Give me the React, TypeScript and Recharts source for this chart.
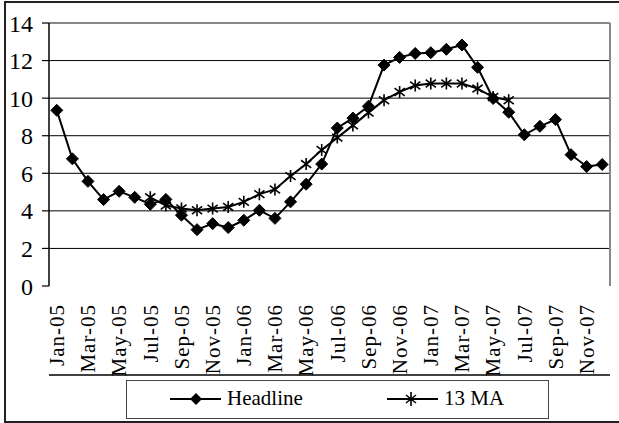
import React from "react";
import {
  LineChart,
  Line,
  XAxis,
  YAxis,
  CartesianGrid,
  ReferenceLine,
} from "recharts";

const months = [
  "Jan-05", "Feb-05", "Mar-05", "Apr-05", "May-05", "Jun-05",
  "Jul-05", "Aug-05", "Sep-05", "Oct-05", "Nov-05", "Dec-05",
  "Jan-06", "Feb-06", "Mar-06", "Apr-06", "May-06", "Jun-06",
  "Jul-06", "Aug-06", "Sep-06", "Oct-06", "Nov-06", "Dec-06",
  "Jan-07", "Feb-07", "Mar-07", "Apr-07", "May-07", "Jun-07",
  "Jul-07", "Aug-07", "Sep-07", "Oct-07", "Nov-07", "Dec-07",
];

const headline = [
  9.35, 6.77, 5.57, 4.6, 5.04, 4.72, 4.35, 4.61, 3.77, 3.0, 3.32, 3.11,
  3.5, 4.03, 3.6, 4.48, 5.42, 6.49, 8.41, 8.94, 9.57, 11.76, 12.17, 12.38,
  12.42, 12.6, 12.83, 11.64, 9.98, 9.25, 8.05, 8.5, 8.86, 6.99, 6.36, 6.47,
];

const ma13 = [
  null, null, null, null, null, null,
  4.72, 4.28, 4.13, 4.03, 4.12, 4.21,
  4.48, 4.89, 5.14, 5.85, 6.49, 7.24,
  7.9, 8.55, 9.23, 9.89, 10.33, 10.67,
  10.78, 10.78, 10.78, 10.51, 10.06, 9.89,
  null, null, null, null, null, null,
];

const yTicks = [0, 2, 4, 6, 8, 10, 12, 14];
const boundaryTicks = Array.from({ length: 19 }, (_, i) => i * 2);
const labelTicks = Array.from({ length: 18 }, (_, i) => i * 2 + 0.5);

const data = months.map((m, i) => ({
  pos: i + 0.5,
  month: m,
  headline: headline[i],
  ma: ma13[i],
}));

const FONT = "'Times New Roman', Tinos, 'Liberation Serif', 'DejaVu Serif', serif";

const Diamond = (props: any) => {
  const { cx, cy, index } = props;
  if (cx == null || cy == null) return <g key={`d-${index}`} />;
  const r = 6;
  return (
    <path
      key={`d-${index}`}
      d={`M${cx},${cy - r}L${cx + r},${cy}L${cx},${cy + r}L${cx - r},${cy}Z`}
      fill="#000"
      stroke="#000"
      strokeWidth={1}
    />
  );
};

const Star = (props: any) => {
  const { cx, cy, index, value } = props;
  if (cx == null || cy == null || value == null) return <g key={`s-${index}`} />;
  const r = 6;
  const d = r * 0.85;
  return (
    <path
      key={`s-${index}`}
      d={`M${cx},${cy - r}L${cx},${cy + r}M${cx - d},${cy - d * 0.75}L${cx + d},${cy + d * 0.75}M${cx - d},${cy + d * 0.75}L${cx + d},${cy - d * 0.75}`}
      stroke="#000"
      strokeWidth={1.6}
      fill="none"
    />
  );
};

const MonthTick = (props: any) => {
  const { x, y, payload } = props;
  const label = months[Math.floor(payload.value)];
  return (
    <text
      transform={`translate(${x},${y + 18}) rotate(-90)`}
      textAnchor="end"
      dy="0.35em"
      style={{ fontFamily: FONT, fontSize: 21, letterSpacing: 1 }}
      fill="#000"
    >
      {label}
    </text>
  );
};

function LegendBox() {
  return (
    <div
      style={{
        position: "absolute",
        left: 126,
        top: 380,
        width: 421,
        height: 37,
        border: "1px solid #444",
        background: "#fff",
        fontFamily: FONT,
        fontSize: 21,
      }}
    >
      <svg width={60} height={20} style={{ position: "absolute", left: 42, top: 8 }}>
        <line x1={1} y1={10} x2={52} y2={10} stroke="#000" strokeWidth={2} />
        <path d="M27,4L33,10L27,16L21,10Z" fill="#000" />
      </svg>
      <span style={{ position: "absolute", left: 100, top: 5, lineHeight: "24px" }}>Headline</span>
      <svg width={60} height={20} style={{ position: "absolute", left: 259, top: 8 }}>
        <line x1={1} y1={10} x2={52} y2={10} stroke="#000" strokeWidth={2} />
        <path d="M25,3L25,17M20,6L30,14M20,14L30,6" stroke="#000" strokeWidth={1.6} fill="none" />
      </svg>
      <span style={{ position: "absolute", left: 317, top: 5, lineHeight: "24px" }}>13 MA</span>
    </div>
  );
}

export default function App() {
  return (
    <div style={{ position: "absolute", left: 0, top: 0, width: 619, height: 423, background: "#fff", overflow: "hidden", fontFamily: FONT }}>
      <div
        style={{
          position: "absolute",
          left: 4,
          top: 1,
          width: 613,
          height: 418,
          border: "2px solid #222",
          borderRight: "none",
        }}
      />
      <div style={{ position: "absolute", left: 0, top: 0 }}>
        <LineChart
          width={619}
          height={423}
          data={data}
          margin={{ top: 23, right: 9, bottom: 47, left: 0 }}
          style={{ fontFamily: FONT }}
        >
          <CartesianGrid vertical={false} stroke="#000" strokeWidth={1} horizontalValues={[2, 4, 6, 8, 10, 12]} />
          <XAxis
            xAxisId="t"
            dataKey="pos"
            type="number"
            domain={[0, 36]}
            ticks={boundaryTicks}
            tick={false}
            tickSize={7}
            height={1}
            stroke="#000"
            axisLine={{ stroke: "#000", strokeWidth: 1.5 }}
            tickLine={{ stroke: "#000", strokeWidth: 1.2 }}
          />
          <XAxis
            xAxisId="l"
            dataKey="pos"
            type="number"
            domain={[0, 36]}
            ticks={labelTicks}
            tick={<MonthTick />}
            tickSize={0}
            tickMargin={0}
            axisLine={false}
            tickLine={false}
            height={89}
            interval={0}
          />
          <YAxis
            domain={[0, 14]}
            ticks={yTicks}
            width={49}
            tickSize={7}
            tickMargin={9}
            interval={0}
            axisLine={{ stroke: "#000", strokeWidth: 1.5 }}
            tickLine={{ stroke: "#000", strokeWidth: 1.2 }}
            tick={{ fontSize: 24, fill: "#000", style: { fontFamily: FONT } }}
          />
          <ReferenceLine xAxisId="t" y={14} stroke="#888" strokeWidth={2} />
          <ReferenceLine xAxisId="t" x={36} stroke="#888" strokeWidth={2} />
          <Line
            xAxisId="t"
            dataKey="ma"
            stroke="#000"
            strokeWidth={2}
            dot={<Star />}
            isAnimationActive={false}
            connectNulls={false}
          />
          <Line
            xAxisId="t"
            dataKey="headline"
            stroke="#000"
            strokeWidth={2}
            dot={<Diamond />}
            isAnimationActive={false}
          />
        </LineChart>
      </div>
      <LegendBox />
    </div>
  );
}
